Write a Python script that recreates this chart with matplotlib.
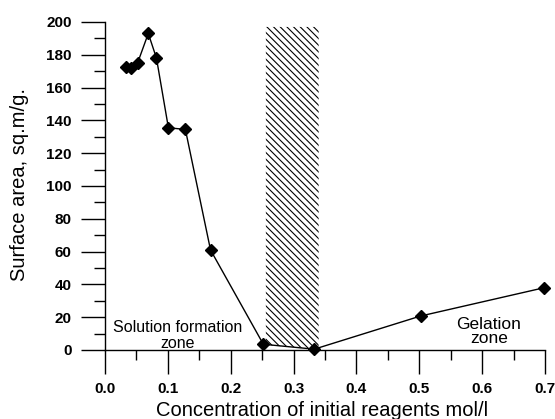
import matplotlib
matplotlib.use("Agg")
import matplotlib.pyplot as plt
from matplotlib.ticker import MultipleLocator

# Data
conc = [0.033, 0.041, 0.052, 0.069, 0.082, 0.101, 0.128, 0.168, 0.252, 0.333, 0.502, 0.699]
area = [172.5, 172.0, 175.0, 193.0, 178.0, 135.5, 134.5, 61.0, 3.5, 0.5, 20.7, 38.0]
x_ticks = [0.0, 0.1, 0.2, 0.3, 0.4, 0.5, 0.6, 0.7]
y_ticks = [0, 20, 40, 60, 80, 100, 120, 140, 160, 180, 200]
zone_x = [0.256, 0.340]
zone_bottom = [3.0, 0.5]
zone_top = 197

plt.rcParams['font.family'] = ['Liberation Sans', 'DejaVu Sans']
plt.rcParams['hatch.linewidth'] = 0.8

fig = plt.figure(figsize=(5.55, 4.19), dpi=100)
ax = fig.add_axes([0.189, 0.1647, 0.793, 0.7828])

ax.fill_between(zone_x, zone_bottom, zone_top, facecolor='white', edgecolor='black',
                hatch='\\' * 5, linewidth=0)

ax.plot(conc, area, color='black', lw=1.0, marker='D', markersize=6,
        markerfacecolor='black', clip_on=False, zorder=3)

ax.set_xlim(0, 0.7)
ax.set_ylim(0, 200)
ax.set_xticks(x_ticks)
ax.set_xticklabels([f"{v:.1f}" for v in x_ticks])
ax.set_yticks(y_ticks)
ax.xaxis.set_minor_locator(MultipleLocator(0.05))
ax.yaxis.set_minor_locator(MultipleLocator(10))

for s in ['top', 'right']:
    ax.spines[s].set_visible(False)
ax.spines['left'].set_linewidth(1.0)
ax.spines['bottom'].set_linewidth(1.0)

ax.tick_params(axis='x', which='major', direction='out', length=17, width=1.0, pad=6,
               labelsize=11)
ax.tick_params(axis='x', which='minor', direction='out', length=7, width=1.0)
ax.tick_params(axis='y', which='major', direction='out', length=17, width=1.0, pad=7,
               labelsize=11)
ax.tick_params(axis='y', which='minor', direction='out', length=8, width=1.0)
for lab in ax.get_xticklabels() + ax.get_yticklabels():
    lab.set_fontweight('bold')

ax.set_xlabel("Concentration of initial reagents mol/l", fontsize=14.5)
ax.xaxis.label.set_va('center')
ax.xaxis.set_label_coords(0.494, -0.185)
ax.set_ylabel("Surface area, sq.m/g.", fontsize=14.5)
ax.yaxis.label.set_va('center')
ax.yaxis.set_label_coords(-0.193, 0.506)

ax.text(0.1155, 13.5, "Solution formation", ha='center', va='center', fontsize=11.5)
ax.text(0.1155, 4.0, "zone", ha='center', va='center', fontsize=11.5)
ax.text(0.611, 15.5, "Gelation", ha='center', va='center', fontsize=12.5)
ax.text(0.611, 7.0, "zone", ha='center', va='center', fontsize=12.5)

fig.savefig("out.png", dpi=100)
